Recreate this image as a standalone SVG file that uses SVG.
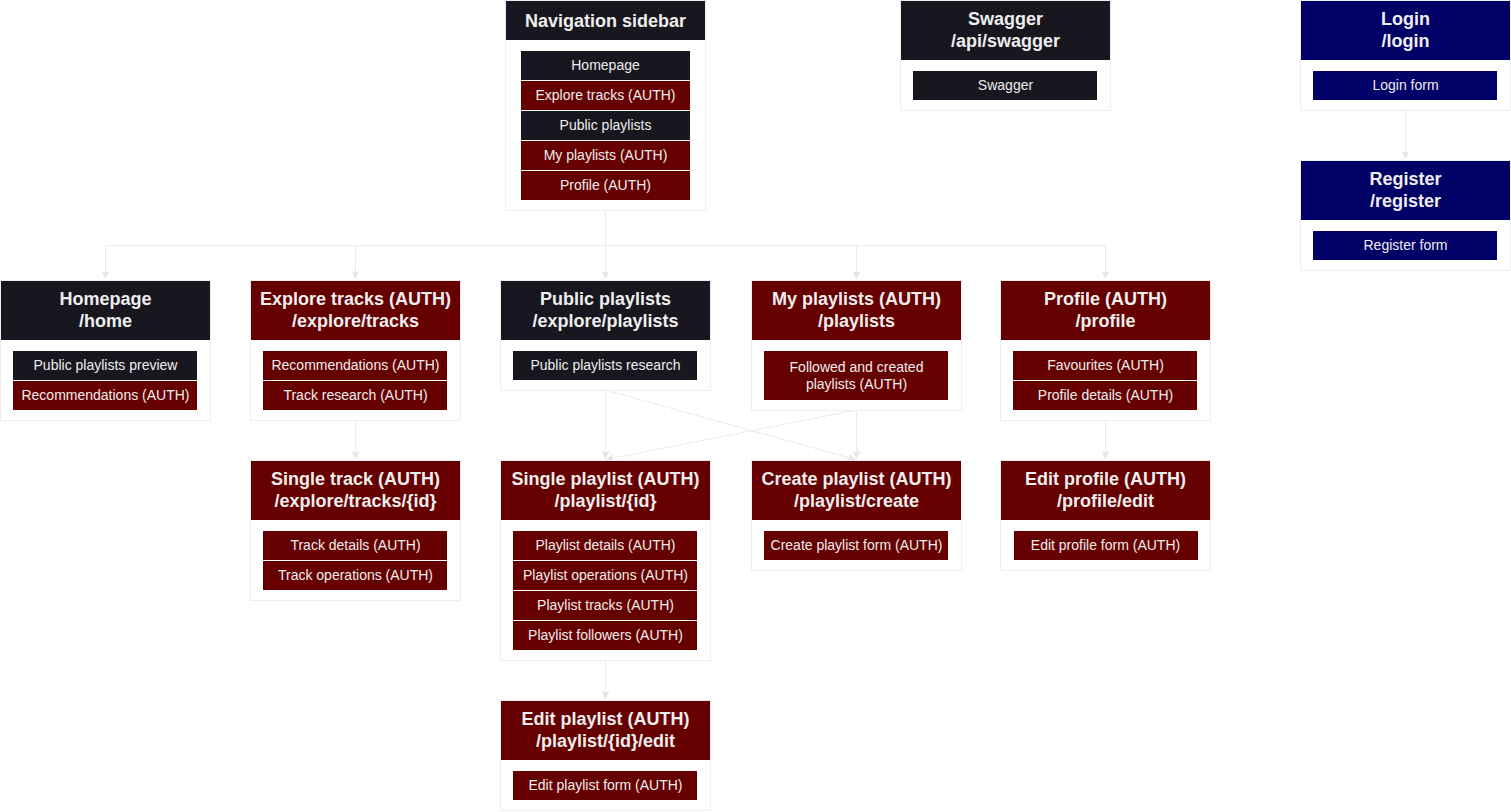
<svg xmlns="http://www.w3.org/2000/svg" width="1511" height="812" viewBox="0 0 1511 812">
<style>
.box{fill:#ffffff;stroke:#eeeeee;stroke-width:1}
.hd{fill:#18171f}.hr{fill:#660000}.hb{fill:#000066}
.it{stroke:none}
.ht{font-family:"Liberation Sans",Arial,sans-serif;font-size:18px;font-weight:bold;fill:#eeeeee;text-anchor:middle}
.tt{font-family:"Liberation Sans",Arial,sans-serif;font-size:14px;fill:#eeeeee;text-anchor:middle}
.cn{fill:none;stroke:#eaeaea;stroke-width:1}
</style>
<defs>
<marker id="ar" viewBox="0 0 10 10" refX="10" refY="5" markerWidth="8" markerHeight="8" markerUnits="userSpaceOnUse" orient="auto">
<path d="M0,0 L10,5 L0,10 L2,5 z" fill="#e6e6e6"/>
</marker>
</defs>
<rect width="1511" height="812" fill="#ffffff"/>
<g id="connectors">
<path class="cn" d="M605.5,210 V245.5 H105.5 V279" marker-end="url(#ar)"/>
<path class="cn" d="M605.5,210 V245.5 H355.5 V279" marker-end="url(#ar)"/>
<path class="cn" d="M605.5,210 V279" marker-end="url(#ar)"/>
<path class="cn" d="M605.5,210 V245.5 H856.5 V279" marker-end="url(#ar)"/>
<path class="cn" d="M605.5,210 V245.5 H1105.5 V279" marker-end="url(#ar)"/>
<path class="cn" d="M1405.5,110 V159" marker-end="url(#ar)"/>
<path class="cn" d="M355.5,420 V459" marker-end="url(#ar)"/>
<path class="cn" d="M605.5,390 V459" marker-end="url(#ar)"/>
<path class="cn" d="M605.5,390 L855.5,459.5" marker-end="url(#ar)"/>
<path class="cn" d="M856.5,410 V459" marker-end="url(#ar)"/>
<path class="cn" d="M856.5,410 L606,459.5" marker-end="url(#ar)"/>
<path class="cn" d="M1105.5,420 V459" marker-end="url(#ar)"/>
<path class="cn" d="M605.5,660 V699" marker-end="url(#ar)"/>
</g>
<g id="nav">
<rect class="box" x="505.5" y="0.5" width="200" height="210"/>
<rect class="hd" x="506" y="1" width="199" height="39"/>
<text class="ht" x="605.5" y="27">Navigation sidebar</text>
<rect class="hd" x="521" y="51" width="169" height="29"/><text class="tt" x="605.5" y="70">Homepage</text>
<rect class="hr" x="521" y="81" width="169" height="29"/><text class="tt" x="605.5" y="100">Explore tracks (AUTH)</text>
<rect class="hd" x="521" y="111" width="169" height="29"/><text class="tt" x="605.5" y="130">Public playlists</text>
<rect class="hr" x="521" y="141" width="169" height="29"/><text class="tt" x="605.5" y="160">My playlists (AUTH)</text>
<rect class="hr" x="521" y="171" width="169" height="29"/><text class="tt" x="605.5" y="190">Profile (AUTH)</text>
</g>
<g id="swagger">
<rect class="box" x="900.5" y="0.5" width="210" height="110"/>
<rect class="hd" x="901" y="1" width="209" height="59"/>
<text class="ht" x="1005.5" y="25">Swagger</text>
<text class="ht" x="1005.5" y="47">/api/swagger</text>
<rect class="hd" x="913" y="71" width="184" height="29"/><text class="tt" x="1005.5" y="90">Swagger</text>
</g>
<g id="login">
<rect class="box" x="1300.5" y="0.5" width="210" height="110"/>
<rect class="hb" x="1301" y="1" width="209" height="59"/>
<text class="ht" x="1405.5" y="25">Login</text>
<text class="ht" x="1405.5" y="47">/login</text>
<rect class="hb" x="1313" y="71" width="184" height="29"/><text class="tt" x="1405.5" y="90">Login form</text>
</g>
<g id="register">
<rect class="box" x="1300.5" y="160.5" width="210" height="110"/>
<rect class="hb" x="1301" y="161" width="209" height="59"/>
<text class="ht" x="1405.5" y="185">Register</text>
<text class="ht" x="1405.5" y="207">/register</text>
<rect class="hb" x="1313" y="231" width="184" height="29"/><text class="tt" x="1405.5" y="250">Register form</text>
</g>
<g id="homepage">
<rect class="box" x="0.5" y="280.5" width="210" height="140"/>
<rect class="hd" x="1" y="281" width="209" height="59"/>
<text class="ht" x="105.5" y="305">Homepage</text>
<text class="ht" x="105.5" y="327">/home</text>
<rect class="hd" x="13" y="351" width="184" height="29"/><text class="tt" x="105.5" y="370">Public playlists preview</text>
<rect class="hr" x="13" y="381" width="184" height="29"/><text class="tt" x="105.5" y="400">Recommendations (AUTH)</text>
</g>
<g id="explore">
<rect class="box" x="250.5" y="280.5" width="210" height="140"/>
<rect class="hr" x="251" y="281" width="209" height="59"/>
<text class="ht" x="355.5" y="305">Explore tracks (AUTH)</text>
<text class="ht" x="355.5" y="327">/explore/tracks</text>
<rect class="hr" x="263" y="351" width="184" height="29"/><text class="tt" x="355.5" y="370">Recommendations (AUTH)</text>
<rect class="hr" x="263" y="381" width="184" height="29"/><text class="tt" x="355.5" y="400">Track research (AUTH)</text>
</g>
<g id="public">
<rect class="box" x="500.5" y="280.5" width="210" height="110"/>
<rect class="hd" x="501" y="281" width="209" height="59"/>
<text class="ht" x="605.5" y="305">Public playlists</text>
<text class="ht" x="605.5" y="327">/explore/playlists</text>
<rect class="hd" x="513" y="351" width="184" height="29"/><text class="tt" x="605.5" y="370">Public playlists research</text>
</g>
<g id="myplaylists">
<rect class="box" x="751.5" y="280.5" width="210" height="130"/>
<rect class="hr" x="752" y="281" width="209" height="59"/>
<text class="ht" x="856.5" y="305">My playlists (AUTH)</text>
<text class="ht" x="856.5" y="327">/playlists</text>
<rect class="hr" x="764" y="351" width="184" height="49"/>
<text class="tt" x="856.5" y="372">Followed and created</text>
<text class="tt" x="856.5" y="389">playlists (AUTH)</text>
</g>
<g id="profile">
<rect class="box" x="1000.5" y="280.5" width="210" height="140"/>
<rect class="hr" x="1001" y="281" width="209" height="59"/>
<text class="ht" x="1105.5" y="305">Profile (AUTH)</text>
<text class="ht" x="1105.5" y="327">/profile</text>
<rect class="hr" x="1013" y="351" width="184" height="29"/><text class="tt" x="1105.5" y="370">Favourites (AUTH)</text>
<rect class="hr" x="1013" y="381" width="184" height="29"/><text class="tt" x="1105.5" y="400">Profile details (AUTH)</text>
</g>
<g id="singletrack">
<rect class="box" x="250.5" y="460.5" width="210" height="140"/>
<rect class="hr" x="251" y="461" width="209" height="59"/>
<text class="ht" x="355.5" y="485">Single track (AUTH)</text>
<text class="ht" x="355.5" y="507">/explore/tracks/{id}</text>
<rect class="hr" x="263" y="531" width="184" height="29"/><text class="tt" x="355.5" y="550">Track details (AUTH)</text>
<rect class="hr" x="263" y="561" width="184" height="29"/><text class="tt" x="355.5" y="580">Track operations (AUTH)</text>
</g>
<g id="singleplaylist">
<rect class="box" x="500.5" y="460.5" width="210" height="200"/>
<rect class="hr" x="501" y="461" width="209" height="59"/>
<text class="ht" x="605.5" y="485">Single playlist (AUTH)</text>
<text class="ht" x="605.5" y="507">/playlist/{id}</text>
<rect class="hr" x="513" y="531" width="184" height="29"/><text class="tt" x="605.5" y="550">Playlist details (AUTH)</text>
<rect class="hr" x="513" y="561" width="184" height="29"/><text class="tt" x="605.5" y="580">Playlist operations (AUTH)</text>
<rect class="hr" x="513" y="591" width="184" height="29"/><text class="tt" x="605.5" y="610">Playlist tracks (AUTH)</text>
<rect class="hr" x="513" y="621" width="184" height="29"/><text class="tt" x="605.5" y="640">Playlist followers (AUTH)</text>
</g>
<g id="createplaylist">
<rect class="box" x="751.5" y="460.5" width="210" height="110"/>
<rect class="hr" x="752" y="461" width="209" height="59"/>
<text class="ht" x="856.5" y="485">Create playlist (AUTH)</text>
<text class="ht" x="856.5" y="507">/playlist/create</text>
<rect class="hr" x="764" y="531" width="184" height="29"/><text class="tt" x="856.5" y="550">Create playlist form (AUTH)</text>
</g>
<g id="editprofile">
<rect class="box" x="1000.5" y="460.5" width="210" height="110"/>
<rect class="hr" x="1001" y="461" width="209" height="59"/>
<text class="ht" x="1105.5" y="485">Edit profile (AUTH)</text>
<text class="ht" x="1105.5" y="507">/profile/edit</text>
<rect class="hr" x="1014" y="531" width="184" height="29"/><text class="tt" x="1105.5" y="550">Edit profile form (AUTH)</text>
</g>
<g id="editplaylist">
<rect class="box" x="500.5" y="700.5" width="210" height="110"/>
<rect class="hr" x="501" y="701" width="209" height="59"/>
<text class="ht" x="605.5" y="725">Edit playlist (AUTH)</text>
<text class="ht" x="605.5" y="747">/playlist/{id}/edit</text>
<rect class="hr" x="513" y="771" width="184" height="29"/><text class="tt" x="605.5" y="790">Edit playlist form (AUTH)</text>
</g>
</svg>
